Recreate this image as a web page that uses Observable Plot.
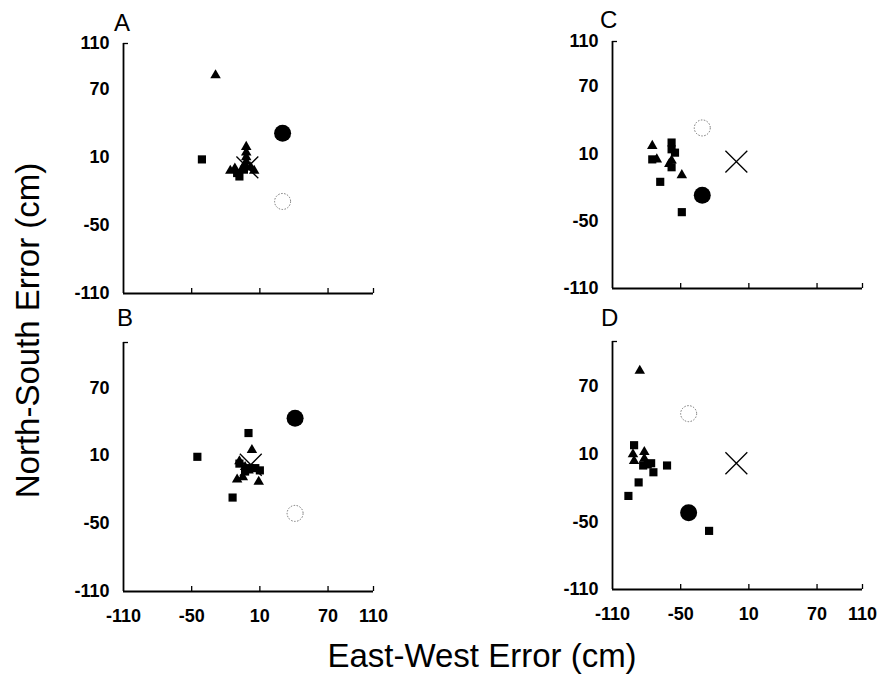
<!DOCTYPE html>
<html>
<head>
<meta charset="utf-8">
<script src="https://cdn.jsdelivr.net/npm/d3@7"></script>
<script src="https://cdn.jsdelivr.net/npm/@observablehq/plot@0.6"></script>
<style>
  html, body { margin: 0; padding: 0; background: #fff; }
  #root { position: relative; width: 878px; height: 675px; background: #fff; overflow: hidden;
          font-family: "Liberation Sans", Arial, Helvetica, sans-serif; color: #000; }
  #root svg text { font-size: 18px; font-weight: bold; font-family: "Liberation Sans", Arial, Helvetica, sans-serif; fill: #000; }
  .abs { position: absolute; }
  .letter { font-size: 24px; line-height: 1; }
  .title { font-size: 33px; line-height: 1; white-space: nowrap; text-align: center; }
</style>
</head>
<body>
<div id="root"></div>
<script>
// ---- tick values ----
const xTickLabels = [-110, -50, 10, 70, 110];
const yTickLabelsTop = [110, 70, 10, -50, -110];
const yTickLabelsBottom = [70, 10, -50, -110];
const xTickMarks = [-50, 10, 70, 110];
const yTickMarks = [110];

// ---- Panel A ----
const aTriangles = [[-29, 82], [-2, 19], [-2, 14], [-2, 10], [-2, 6], [-3, 3], [-16, -2], [-12, 0], [5, -2], [2, 1], [-6, -1]];
const aSquares = [[-41, 8], [-8, -7], [-4, -1], [-10, -4]];
const aFilled = [[30, 31]];
const aOpen = [[30, -29]];
const aCross = [[-1, 1]];

// ---- Panel B ----
const bTriangles = [[3, 15], [-10, -11], [-5, -9], [9, -13], [-8, 5], [0, -3], [-3, 0]];
const bSquares = [[-45, 9], [0, 30], [-14, -27], [-8, 3], [10, -3], [6, -1], [1, -1], [-3, -4]];
const bFilled = [[41, 43]];
const bOpen = [[41, -41]];
const bCross = [[2, 2]];

// ---- Panel C ----
const cTriangles = [[-75, 17], [-71, 5], [-49, -9], [-60, 1], [-58, 4]];
const cSquares = [[-75, 5], [-58, 20], [-58, 14], [-55, 11], [-58, -2], [-68, -15], [-49, -42]];
const cFilled = [[-31, -27]];
const cOpen = [[-31, 33]];
const cCross = [[-1, 3]];

// ---- Panel D ----
const dTriangles = [[-86, 84], [-92, 10], [-91, 4], [-82, 12], [-82, 6]];
const dSquares = [[-96, -27], [-87, -15], [-91, 18], [-83, 0], [-76, 2], [-74, -6], [-62, 0], [-79, 1], [-25, -58]];
const dFilled = [[-43, -42]];
const dOpen = [[-43, 46]];
const dCross = [[-1, 2]];

const FONT = '"Liberation Sans", Arial, Helvetica, sans-serif';
const fmt = d => String(d);

function panel(cfg) {
  const {tri, sq, filled, open, cross, showX, yTicks, width, height, ml, mr, mt, mb} = cfg;
  const plotW = width - ml - mr;
  const plotH = height - mt - mb;
  const px = d => d[0], py = d => d[1];
  const marks = [
    Plot.axisY(yTicks, {tickSize: 0, tickPadding: 14, fontSize: 18, tickFormat: fmt, label: null}),
    Plot.ruleX([-110], {stroke: "black", strokeWidth: 1.8}),
    Plot.ruleY([-110], {stroke: "black", strokeWidth: 1.8}),
    Plot.tickX(xTickMarks, {x: d => d, stroke: "black", strokeWidth: 1.3, insetTop: plotH - 5}),
    Plot.tickY(yTickMarks, {y: d => d, stroke: "black", strokeWidth: 1.3, insetRight: plotW - 5}),
    Plot.dot(open, {x: px, y: py, r: 8, fill: "none", stroke: "#666", strokeWidth: 0.9, strokeDasharray: "1.5,1.5"}),
    Plot.dot(filled, {x: px, y: py, r: 8.5, fill: "black", stroke: "none"}),
    Plot.dot(sq, {x: px, y: py, symbol: "square", r: 4.6, fill: "black", stroke: "none"}),
    Plot.dot(tri, {x: px, y: py, symbol: "triangle", r: 3.9, fill: "black", stroke: "none"}),
    Plot.dot(cross, {x: px, y: py, symbol: "times", r: 10, fill: "none", stroke: "black", strokeWidth: 1.3})
  ];
  if (showX) marks.push(Plot.axisX(xTickLabels, {tickSize: 0, tickPadding: 18, fontSize: 18, tickFormat: fmt, label: null}));
  return Plot.plot({
    width, height,
    marginLeft: ml, marginRight: mr, marginTop: mt, marginBottom: mb,
    x: {domain: [-110, 110], axis: showX ? undefined : null},
    y: {domain: [-110, 110]},
    style: {fontFamily: FONT, fontSize: "18px", color: "black", background: "transparent", overflow: "visible"},
    marks
  });
}

const root = document.getElementById("root");
function place(node, left, top) {
  node.classList.add("abs");
  node.style.left = left + "px";
  node.style.top = top + "px";
  root.appendChild(node);
}

place(panel({tri: aTriangles, sq: aSquares, filled: aFilled, open: aOpen, cross: aCross, showX: false,
  yTicks: yTickLabelsTop, width: 439, height: 310, ml: 123, mr: 66, mt: 43, mb: 17}), 0, 0);
place(panel({tri: cTriangles, sq: cSquares, filled: cFilled, open: cOpen, cross: cCross, showX: false,
  yTicks: yTickLabelsTop, width: 439, height: 310, ml: 173, mr: 16, mt: 41, mb: 22}), 439, 0);
place(panel({tri: bTriangles, sq: bSquares, filled: bFilled, open: bOpen, cross: bCross, showX: true,
  yTicks: yTickLabelsBottom, width: 439, height: 365, ml: 123, mr: 66, mt: 32, mb: 84}), 0, 310);
place(panel({tri: dTriangles, sq: dSquares, filled: dFilled, open: dOpen, cross: dCross, showX: true,
  yTicks: yTickLabelsBottom, width: 439, height: 365, ml: 173, mr: 16, mt: 31, mb: 86}), 439, 310);

function label(text, cls, left, top, extra) {
  const d = document.createElement("div");
  d.className = cls;
  d.textContent = text;
  if (extra) Object.assign(d.style, extra);
  place(d, left, top);
  return d;
}
label("A", "letter", 114, 11);
label("C", "letter", 600, 8);
label("B", "letter", 117, 306);
label("D", "letter", 601, 306);
label("East-West Error (cm)", "title", 43, 639, {width: "878px"});
label("North-South Error (cm)", "title", -173, 314, {width: "400px", transform: "rotate(-90deg)", transformOrigin: "50% 50%"});
</script>
</body>
</html>
